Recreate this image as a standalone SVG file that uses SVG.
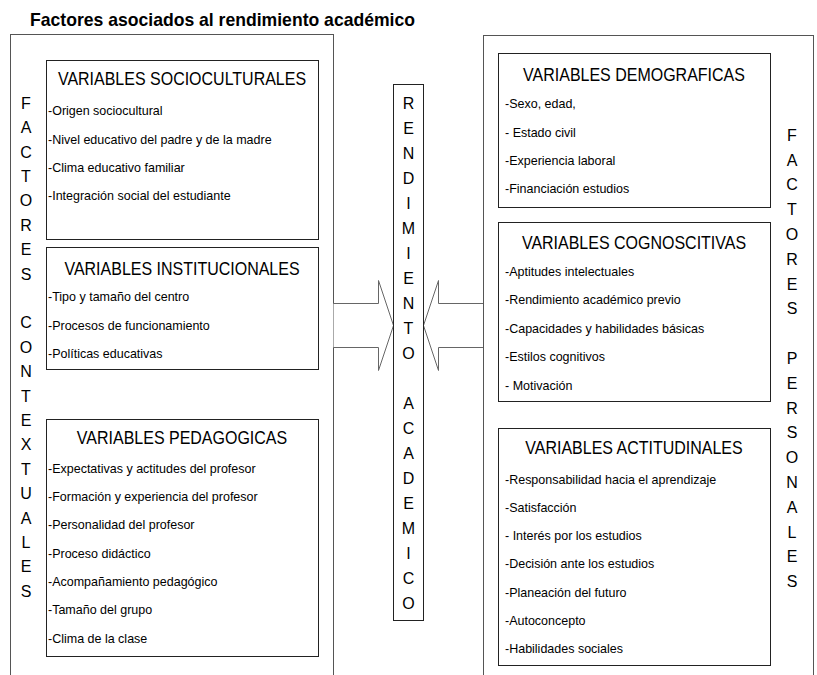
<svg xmlns="http://www.w3.org/2000/svg" width="817" height="675" viewBox="0 0 817 675">
<style>
text{font-family:"Liberation Sans",Arial,sans-serif;fill:#000}
.title{font-size:19px;font-weight:bold}
.hdr{font-size:18px;text-anchor:middle}
.item{font-size:13.5px}
.col{font-size:16px;text-anchor:middle}
.outer{fill:none;stroke:#555;stroke-width:1}
.inner{fill:#fff;stroke:#222;stroke-width:1}
.arrow{fill:#fff;stroke:#666;stroke-width:1}
</style>
<rect width="817" height="675" fill="#fff"/>
<text class="title" x="30" y="26" textLength="385" lengthAdjust="spacingAndGlyphs">Factores asociados al rendimiento académico</text>

<g id="contextuales">
<rect class="outer" x="10.5" y="34.5" width="323" height="660"/>
<text class="col"><tspan x="26" y="108.7">F</tspan><tspan x="26" y="133.1">A</tspan><tspan x="26" y="157.5">C</tspan><tspan x="26" y="181.9">T</tspan><tspan x="26" y="206.3">O</tspan><tspan x="26" y="230.7">R</tspan><tspan x="26" y="255.1">E</tspan><tspan x="26" y="279.5">S</tspan><tspan x="26" y="328.3">C</tspan><tspan x="26" y="352.7">O</tspan><tspan x="26" y="377.1">N</tspan><tspan x="26" y="401.5">T</tspan><tspan x="26" y="425.9">E</tspan><tspan x="26" y="450.3">X</tspan><tspan x="26" y="474.7">T</tspan><tspan x="26" y="499.1">U</tspan><tspan x="26" y="523.5">A</tspan><tspan x="26" y="547.9">L</tspan><tspan x="26" y="572.3">E</tspan><tspan x="26" y="596.7">S</tspan></text>
</g>

<g id="socioculturales">
<rect class="inner" x="46.5" y="60.5" width="272" height="179"/>
<g transform="translate(182 0) scale(0.889 1)"><text class="hdr" x="0" y="85">VARIABLES SOCIOCULTURALES</text></g>
<g transform="translate(48 0) scale(0.926 1)">
<text class="item" x="0" y="115">-Origen sociocultural</text>
<text class="item" x="0" y="144">-Nivel educativo del padre y de la madre</text>
<text class="item" x="0" y="172">-Clima educativo familiar</text>
<text class="item" x="0" y="200">-Integración social del estudiante</text>
</g>
</g>

<g id="institucionales">
<rect class="inner" x="46.5" y="247.5" width="272" height="122"/>
<g transform="translate(182 0) scale(0.889 1)"><text class="hdr" x="0" y="275">VARIABLES INSTITUCIONALES</text></g>
<g transform="translate(48 0) scale(0.926 1)">
<text class="item" x="0" y="301">-Tipo y tamaño del centro</text>
<text class="item" x="0" y="330">-Procesos de funcionamiento</text>
<text class="item" x="0" y="358">-Políticas educativas</text>
</g>
</g>

<g id="pedagogicas">
<rect class="inner" x="46.5" y="419.5" width="272" height="237"/>
<g transform="translate(182 0) scale(0.889 1)"><text class="hdr" x="0" y="444">VARIABLES PEDAGOGICAS</text></g>
<g transform="translate(48 0) scale(0.926 1)">
<text class="item" x="0" y="473">-Expectativas y actitudes del profesor</text>
<text class="item" x="0" y="501">-Formación y experiencia del profesor</text>
<text class="item" x="0" y="529">-Personalidad del profesor</text>
<text class="item" x="0" y="558">-Proceso didáctico</text>
<text class="item" x="0" y="586">-Acompañamiento pedagógico</text>
<text class="item" x="0" y="614">-Tamaño del grupo</text>
<text class="item" x="0" y="643">-Clima de la clase</text>
</g>
</g>

<g id="connectors">
<path class="arrow" d="M333.5,303.5 H378.5 V280.5 L393.5,325.5 L378.5,370.5 V347.5 H333.5"/>
<path class="arrow" d="M483.5,303.5 H438.5 V280.5 L423.5,325.5 L438.5,370.5 V347.5 H483.5"/>
</g>

<g id="rendimiento">
<rect class="inner" x="393.5" y="84.5" width="30" height="536"/>
<text class="col"><tspan x="408.5" y="108.7">R</tspan><tspan x="408.5" y="133.7">E</tspan><tspan x="408.5" y="158.7">N</tspan><tspan x="408.5" y="183.7">D</tspan><tspan x="408.5" y="208.7">I</tspan><tspan x="408.5" y="233.7">M</tspan><tspan x="408.5" y="258.7">I</tspan><tspan x="408.5" y="283.7">E</tspan><tspan x="408.5" y="308.7">N</tspan><tspan x="408.5" y="333.7">T</tspan><tspan x="408.5" y="358.7">O</tspan><tspan x="408.5" y="408.7">A</tspan><tspan x="408.5" y="433.7">C</tspan><tspan x="408.5" y="458.7">A</tspan><tspan x="408.5" y="483.7">D</tspan><tspan x="408.5" y="508.7">E</tspan><tspan x="408.5" y="533.7">M</tspan><tspan x="408.5" y="558.7">I</tspan><tspan x="408.5" y="583.7">C</tspan><tspan x="408.5" y="608.7">O</tspan></text>
</g>

<g id="personales">
<rect class="outer" x="483.5" y="35.5" width="330" height="660"/>
<text class="col"><tspan x="792" y="140.7">F</tspan><tspan x="792" y="165.5">A</tspan><tspan x="792" y="190.3">C</tspan><tspan x="792" y="215.1">T</tspan><tspan x="792" y="239.9">O</tspan><tspan x="792" y="264.7">R</tspan><tspan x="792" y="289.5">E</tspan><tspan x="792" y="314.3">S</tspan><tspan x="792" y="363.9">P</tspan><tspan x="792" y="388.7">E</tspan><tspan x="792" y="413.5">R</tspan><tspan x="792" y="438.3">S</tspan><tspan x="792" y="463.1">O</tspan><tspan x="792" y="487.9">N</tspan><tspan x="792" y="512.7">A</tspan><tspan x="792" y="537.5">L</tspan><tspan x="792" y="562.3">E</tspan><tspan x="792" y="587.1">S</tspan></text>
</g>

<g id="demograficas">
<rect class="inner" x="498.5" y="53.5" width="272" height="154"/>
<g transform="translate(634 0) scale(0.889 1)"><text class="hdr" x="0" y="81">VARIABLES DEMOGRAFICAS</text></g>
<g transform="translate(505 0) scale(0.926 1)">
<text class="item" x="0" y="108">-Sexo, edad,</text>
<text class="item" x="0" y="137">- Estado civil</text>
<text class="item" x="0" y="165">-Experiencia laboral</text>
<text class="item" x="0" y="193">-Financiación estudios</text>
</g>
</g>

<g id="cognoscitivas">
<rect class="inner" x="498.5" y="222.5" width="272" height="179"/>
<g transform="translate(634 0) scale(0.889 1)"><text class="hdr" x="0" y="249">VARIABLES COGNOSCITIVAS</text></g>
<g transform="translate(505 0) scale(0.926 1)">
<text class="item" x="0" y="276">-Aptitudes intelectuales</text>
<text class="item" x="0" y="304">-Rendimiento académico previo</text>
<text class="item" x="0" y="333">-Capacidades y habilidades básicas</text>
<text class="item" x="0" y="361">-Estilos cognitivos</text>
<text class="item" x="0" y="390">- Motivación</text>
</g>
</g>

<g id="actitudinales">
<rect class="inner" x="498.5" y="428.5" width="272" height="237"/>
<g transform="translate(634 0) scale(0.889 1)"><text class="hdr" x="0" y="454">VARIABLES ACTITUDINALES</text></g>
<g transform="translate(505 0) scale(0.926 1)">
<text class="item" x="0" y="484">-Responsabilidad hacia el aprendizaje</text>
<text class="item" x="0" y="512">-Satisfacción</text>
<text class="item" x="0" y="540">- Interés por los estudios</text>
<text class="item" x="0" y="568">-Decisión ante los estudios</text>
<text class="item" x="0" y="597">-Planeación del futuro</text>
<text class="item" x="0" y="625">-Autoconcepto</text>
<text class="item" x="0" y="653">-Habilidades sociales</text>
</g>
</g>
</svg>
